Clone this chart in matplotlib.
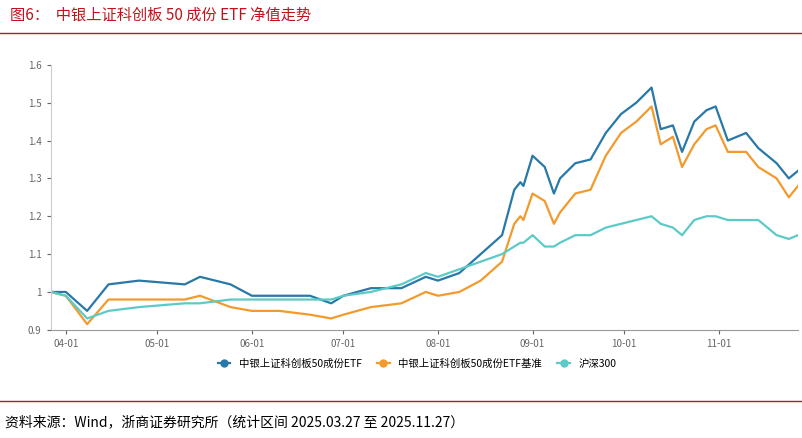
import matplotlib
matplotlib.use("Agg")
import matplotlib.pyplot as plt
import matplotlib.dates as mdates
import pandas as pd
from matplotlib.lines import Line2D

plt.rcParams['font.family'] = ['Noto Sans CJK SC', 'DejaVu Sans']

dates = ["03-27","04-01","04-08","04-15","04-25","05-10","05-15","05-25","06-01","06-10","06-20","06-27",
         "07-01","07-10","07-20","07-28","08-01","08-08","08-15","08-22","08-26","08-28","08-29","09-01",
         "09-05","09-08","09-10","09-15","09-20","09-25","09-30","10-05","10-10","10-13","10-17","10-20",
         "10-24","10-28","10-31","11-04","11-10","11-14","11-20","11-24","11-27"]
etf = [1.0,1.0,0.95,1.02,1.03,1.02,1.04,1.02,0.99,0.99,0.99,0.97,0.99,1.01,1.01,1.04,1.03,1.05,1.10,1.15,
       1.27,1.29,1.28,1.36,1.33,1.26,1.30,1.34,1.35,1.42,1.47,1.50,1.54,1.43,1.44,1.37,1.45,1.48,1.49,1.40,
       1.42,1.38,1.34,1.30,1.32]
bench = [1.0,0.99,0.915,0.98,0.98,0.98,0.99,0.96,0.95,0.95,0.94,0.93,0.94,0.96,0.97,1.0,0.99,1.0,1.03,1.08,
         1.18,1.20,1.19,1.26,1.24,1.18,1.21,1.26,1.27,1.36,1.42,1.45,1.49,1.39,1.41,1.33,1.39,1.43,1.44,1.37,
         1.37,1.33,1.30,1.25,1.28]
hs300 = [1.0,0.99,0.93,0.95,0.96,0.97,0.97,0.98,0.98,0.98,0.98,0.98,0.99,1.0,1.02,1.05,1.04,1.06,1.08,1.10,
         1.12,1.13,1.13,1.15,1.12,1.12,1.13,1.15,1.15,1.17,1.18,1.19,1.20,1.18,1.17,1.15,1.19,1.20,1.20,1.19,
         1.19,1.19,1.15,1.14,1.15]
names = ["中银上证科创板50成份ETF", "中银上证科创板50成份ETF基准", "沪深300"]
colors = ["#2878a8", "#f39a2c", "#5ccac6"]

x = pd.to_datetime(["2025-" + d for d in dates])

fig = plt.figure(figsize=(8.02, 4.38), dpi=100)
fig.text(0.012, 0.965, "图6：  中银上证科创板 50 成份 ETF 净值走势", color="#c0141c", fontsize=11, va="center")
fig.add_artist(Line2D([0, 1], [0.925, 0.925], color="#c0141c", lw=1))
fig.add_artist(Line2D([0, 1], [0.085, 0.085], color="#c0141c", lw=1))
fig.text(0.006, 0.035, "资料来源：Wind，浙商证券研究所（统计区间 2025.03.27 至 2025.11.27）", fontsize=10, va="center")

ax = fig.add_axes([0.063, 0.247, 0.932, 0.605])
for ys, c in zip([etf, bench, hs300], colors):
    ax.plot(x, ys, color=c, lw=1.6)
ax.set_ylim(0.9, 1.6)
ax.set_yticks([0.9,1.0,1.1,1.2,1.3,1.4,1.5,1.6])
ax.set_yticklabels(["0.9","1","1.1","1.2","1.3","1.4","1.5","1.6"])
ax.set_xlim(pd.Timestamp("2025-03-27"), pd.Timestamp("2025-11-27"))
ax.xaxis.set_major_locator(mdates.MonthLocator())
ax.xaxis.set_major_formatter(mdates.DateFormatter("%m-01"))
ax.tick_params(labelsize=7, colors="#666666", length=3)
for s in ["top", "right"]:
    ax.spines[s].set_visible(False)
ax.spines["left"].set_color("#cccccc")
ax.spines["bottom"].set_color("#999999")
handles = [Line2D([], [], color=c, marker="o", lw=1.6, markersize=5) for c in colors]
fig.legend(handles, names, loc="center", bbox_to_anchor=(0.52, 0.17), ncol=3, frameon=False,
           fontsize=7.5, handlelength=1.2, columnspacing=1.5)
fig.savefig("out.png", dpi=100)
